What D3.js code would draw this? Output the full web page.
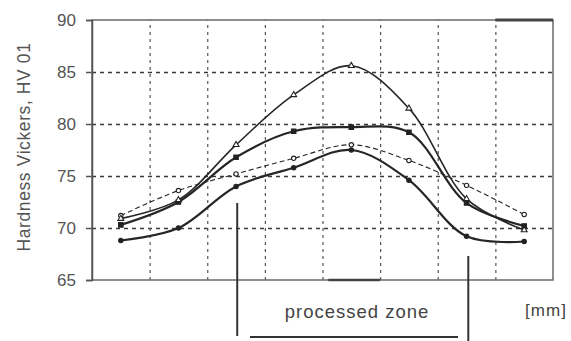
<!DOCTYPE html>
<html>
<head>
<meta charset="utf-8">
<script src="https://cdn.jsdelivr.net/npm/d3@7"></script>
<style>
  body { margin: 0; background: #fff; }
  text { font-family: "Liberation Sans", Arial, sans-serif; }
</style>
</head>
<body>
<div id="chart-area"></div>
<script>
const positions = [0.5, 1.5, 2.5, 3.5, 4.5, 5.5, 6.5, 7.5]
const hvTriangle = [70.9, 72.7, 78.0, 82.8, 85.6, 81.5, 72.8, 69.8]
const hvSquare   = [70.3, 72.5, 76.8, 79.3, 79.7, 79.2, 72.4, 70.2]
const hvDashed   = [71.2, 73.6, 75.2, 76.7, 78.0, 76.5, 74.1, 71.3]
const hvLow      = [68.8, 70.0, 74.0, 75.8, 77.5, 74.6, 69.2, 68.7]
const yTicks = [65, 70, 75, 80, 85, 90]
const xGrid = [1, 2, 3, 4, 5, 6, 7]
const zoneEdges = [2.52, 6.53]

const MARGIN = { LEFT: 92, RIGHT: 18, TOP: 20, BOTTOM: 61 }
const WIDTH = 571 - MARGIN.LEFT - MARGIN.RIGHT
const HEIGHT = 341 - MARGIN.TOP - MARGIN.BOTTOM

const svg = d3.select("#chart-area").append("svg")
  .attr("width", 571)
  .attr("height", 341)

const g = svg.append("g")
  .attr("transform", `translate(${MARGIN.LEFT}, ${MARGIN.TOP})`)

// SCALES
const x = d3.scaleLinear().domain([0, 8]).range([0, WIDTH])
const y = d3.scaleLinear().domain([65, 90]).range([HEIGHT, 0])

// GRID
const hGrid = g.append("g")
  .call(d3.axisLeft(y).tickValues([70, 75, 80, 85]).tickSize(-WIDTH).tickFormat(""))
hGrid.select(".domain").remove()
hGrid.selectAll("line")
  .attr("stroke", "#3a3a3a")
  .attr("stroke-width", 1.6)
  .attr("stroke-dasharray", "4,4")

const vGrid = g.append("g")
  .attr("transform", `translate(0, ${HEIGHT})`)
  .call(d3.axisBottom(x).tickValues(xGrid).tickSize(-HEIGHT).tickFormat(""))
vGrid.select(".domain").remove()
vGrid.selectAll("line")
  .attr("stroke", "#555")
  .attr("stroke-width", 1.2)
  .attr("stroke-dasharray", "3,4")

// FRAME
g.append("rect")
  .attr("width", WIDTH)
  .attr("height", HEIGHT)
  .attr("fill", "none")
  .attr("stroke", "#6a6a6a")
  .attr("stroke-width", 1.5)
g.append("line")
  .attr("x1", x(7)).attr("x2", WIDTH)
  .attr("y1", 0).attr("y2", 0)
  .attr("stroke", "#444").attr("stroke-width", 3)
g.append("line")
  .attr("x1", x(4.1)).attr("x2", x(5))
  .attr("y1", HEIGHT).attr("y2", HEIGHT)
  .attr("stroke", "#444").attr("stroke-width", 2.5)

// Y AXIS
const yAxisGroup = g.append("g")
  .call(d3.axisLeft(y).tickValues(yTicks).tickSize(6).tickPadding(10))
yAxisGroup.select(".domain")
  .attr("stroke", "#555").attr("stroke-width", 1.5)
yAxisGroup.selectAll("line").attr("stroke", "#555").attr("stroke-width", 1.5)
yAxisGroup.selectAll("text")
  .attr("font-size", 17)
  .attr("fill", "#555")
  .style("font-family", "'Liberation Sans', Arial, sans-serif")

svg.append("text")
  .attr("transform", `translate(30, ${MARGIN.TOP + HEIGHT / 2 - 3}) rotate(-90)`)
  .attr("text-anchor", "middle")
  .attr("font-size", 17.5)
  .attr("letter-spacing", 0.6)
  .attr("fill", "#555")
  .text("Hardness Vickers, HV 01")

// CURVES
const line = d3.line()
  .x((d, i) => x(positions[i]))
  .y(d => y(d))
  .curve(d3.curveCatmullRom.alpha(0.5))

const series = [
  { values: hvLow, width: 2.2, dash: null, mark: "circle" },
  { values: hvDashed, width: 1.1, dash: "5,3", mark: "open" },
  { values: hvSquare, width: 2.2, dash: null, mark: "square" },
  { values: hvTriangle, width: 1.6, dash: null, mark: "triangle" }
]

series.forEach(s => {
  g.append("path")
    .datum(s.values)
    .attr("d", line)
    .attr("fill", "none")
    .attr("stroke", "#262626")
    .attr("stroke-width", s.width)
    .attr("stroke-dasharray", s.dash)

  const sym = s.mark === "square" ? d3.symbolSquare
    : s.mark === "triangle" ? d3.symbolTriangle : d3.symbolCircle
  g.selectAll(null)
    .data(s.values)
    .enter().append("path")
    .attr("transform", (d, i) => `translate(${x(positions[i])}, ${y(d)})`)
    .attr("d", d3.symbol().type(sym).size(s.mark === "square" ? 20 : 15))
    .attr("fill", s.mark === "open" || s.mark === "triangle" ? "#fff" : "#222")
    .attr("stroke", "#222")
    .attr("stroke-width", 1.1)
})

// PROCESSED ZONE
const zone = svg.append("g").attr("stroke", "#333").attr("stroke-width", 2)
zone.append("line")
  .attr("x1", MARGIN.LEFT + x(zoneEdges[0])).attr("x2", MARGIN.LEFT + x(zoneEdges[0]))
  .attr("y1", 203).attr("y2", 336)
zone.append("line")
  .attr("x1", MARGIN.LEFT + x(zoneEdges[1])).attr("x2", MARGIN.LEFT + x(zoneEdges[1]))
  .attr("y1", 256).attr("y2", 341)
zone.append("line")
  .attr("x1", 250).attr("x2", 458)
  .attr("y1", 337).attr("y2", 337)

svg.append("text")
  .attr("x", 357).attr("y", 318)
  .attr("text-anchor", "middle")
  .attr("font-size", 18.5)
  .attr("letter-spacing", 1)
  .attr("fill", "#444")
  .text("processed zone")

svg.append("text")
  .attr("x", 546).attr("y", 316)
  .attr("text-anchor", "middle")
  .attr("font-size", 17)
  .attr("letter-spacing", 1)
  .attr("fill", "#444")
  .text("[mm]")
</script>
</body>
</html>
